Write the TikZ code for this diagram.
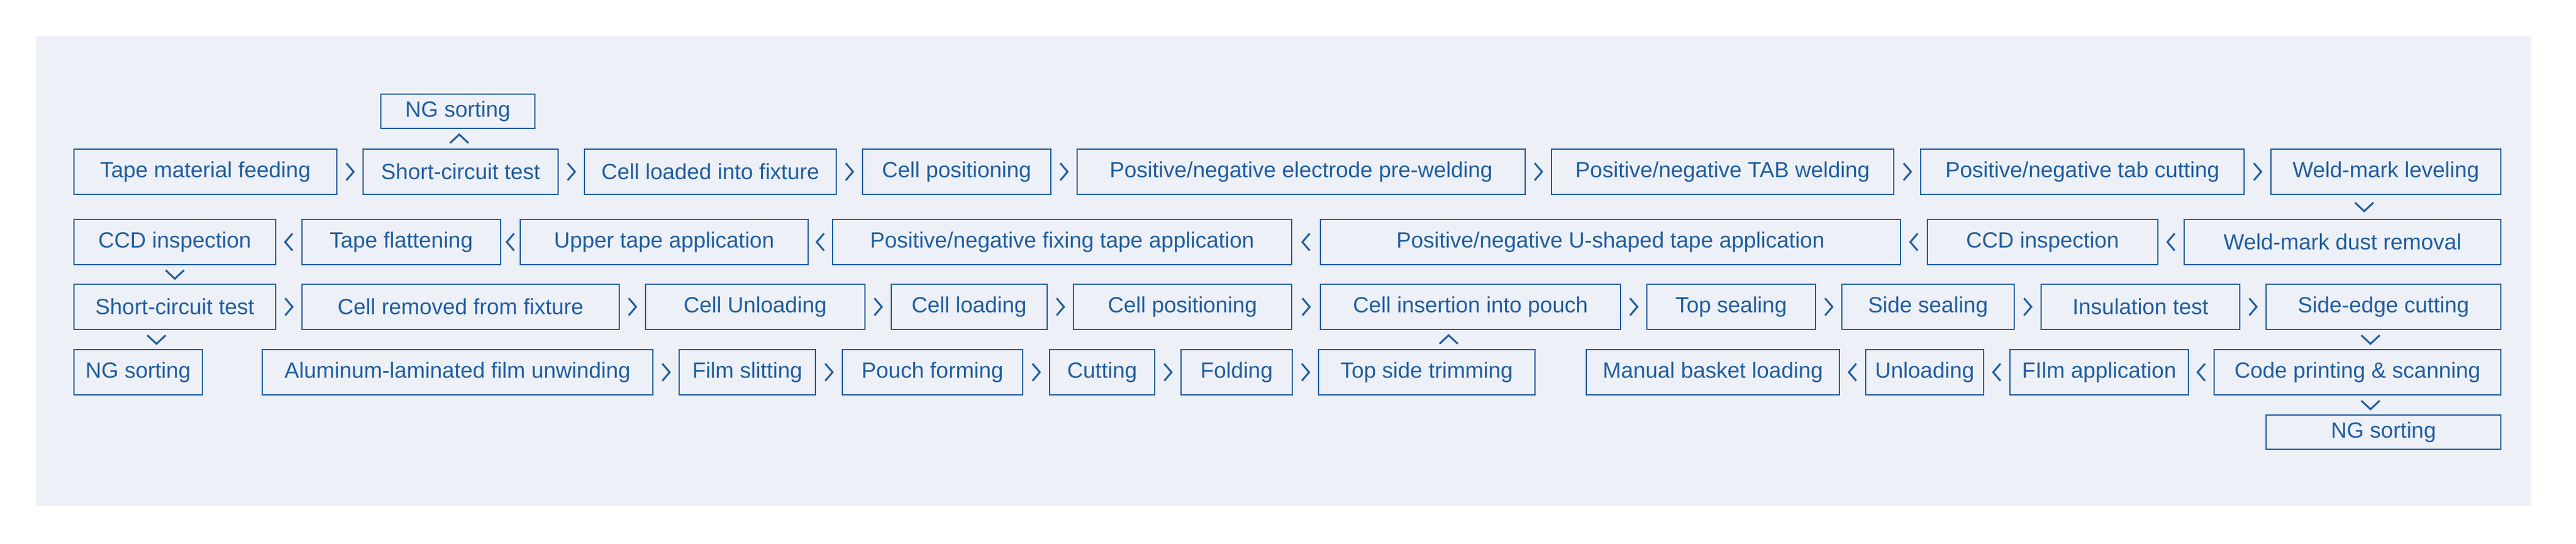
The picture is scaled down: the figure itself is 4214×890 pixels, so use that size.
\documentclass[tikz,border=0pt]{standalone}
\usepackage{fontspec}
\setmainfont{Liberation Sans}
\usetikzlibrary{calc}
\definecolor{bl}{HTML}{1F5E9E}
\definecolor{bg}{HTML}{EEF0F8}
\begin{document}
\begin{tikzpicture}[x=1pt,y=-1pt,
  box/.style={draw=bl,line width=2.6pt,text=bl,inner sep=0pt,font=\fontsize{36}{40}\selectfont},
  chev/.style={draw=bl,line width=3pt}]
\useasboundingbox (0,0) rectangle (4214,890);
\fill[white] (0,0) rectangle (4214,890);
\fill[bg] (59,59) rectangle (4141,828);
\newcommand\bx[6]{\node[box,minimum width={#3-#2},minimum height=#5] (#1) at ({(#2+#3)/2},#4) {#6};}
\newcommand\cR[2]{\path (#1.east) -- (#2.west) coordinate[pos=.5] (cc); \draw[chev] ($(cc)+(-6,-14)$) -- ($(cc)+(6,0)$) -- ($(cc)+(-6,14)$);}
\newcommand\cL[2]{\path (#1.west) -- (#2.east) coordinate[pos=.5] (cc); \draw[chev] ($(cc)+(6,-14)$) -- ($(cc)+(-6,0)$) -- ($(cc)+(6,14)$);}
\newcommand\cD[2]{\path (#1.south) -- (#2.north) coordinate[pos=.5] (cc); \draw[chev] ($(cc)+(-15,-7)$) -- ($(cc)+(0,7)$) -- ($(cc)+(15,-7)$);}
\newcommand\cU[2]{\path (#1.north) -- (#2.south) coordinate[pos=.5] (cc); \draw[chev] ($(cc)+(-15,7)$) -- ($(cc)+(0,-7)$) -- ($(cc)+(15,7)$);}
% row 1
\bx{a1}{121}{551}{281}{74}{Tape material feeding}
\bx{a2}{594}{913}{281}{74}{Short-circuit test}
\bx{a3}{956}{1368}{281}{74}{Cell loaded into fixture}
\bx{a4}{1411}{1719}{281}{74}{Cell positioning}
\bx{a5}{1762}{2495}{281}{74}{Positive/negative electrode pre-welding}
\bx{a6}{2538}{3098}{281}{74}{Positive/negative TAB welding}
\bx{a7}{3142}{3671}{281}{74}{Positive/negative tab cutting}
\bx{a8}{3715}{4091}{281}{74}{Weld-mark leveling}
\bx{ng1}{623}{875}{182}{56}{NG sorting}
% row 2
\bx{b1}{121}{451}{396}{74}{CCD inspection}
\bx{b2}{494}{819}{396}{74}{Tape flattening}
\bx{b3}{851}{1322}{396}{74}{Upper tape application}
\bx{b4}{1362}{2113}{396}{74}{Positive/negative fixing tape application}
\bx{b5}{2160}{3109}{396}{74}{Positive/negative U-shaped tape application}
\bx{b6}{3153}{3530}{396}{74}{CCD inspection}
\bx{b7}{3573}{4091}{396}{74}{Weld-mark dust removal}
% row 3
\bx{c1}{121}{451}{502}{74}{Short-circuit test}
\bx{c2}{494}{1013}{502}{74}{Cell removed from fixture}
\bx{c3}{1056}{1415}{502}{74}{Cell Unloading}
\bx{c4}{1458}{1713}{502}{74}{Cell loading}
\bx{c5}{1756}{2113}{502}{74}{Cell positioning}
\bx{c6}{2160}{2651}{502}{74}{Cell insertion into pouch}
\bx{c7}{2694}{2970}{502}{74}{Top sealing}
\bx{c8}{3013}{3295}{502}{74}{Side sealing}
\bx{c9}{3339}{3664}{502}{74}{Insulation test}
\bx{c10}{3707}{4091}{502}{74}{Side-edge cutting}
% row 4
\bx{d1}{121}{331}{609}{74}{NG sorting}
\bx{d2}{429}{1068}{609}{74}{Aluminum-laminated film unwinding}
\bx{d3}{1111}{1334}{609}{74}{Film slitting}
\bx{d4}{1378}{1673}{609}{74}{Pouch forming}
\bx{d5}{1717}{1889}{609}{74}{Cutting}
\bx{d6}{1932}{2114}{609}{74}{Folding}
\bx{d7}{2157}{2511}{609}{74}{Top side trimming}
\bx{d8}{2595}{3009}{609}{74}{Manual basket loading}
\bx{d9}{3052}{3245}{609}{74}{Unloading}
\bx{d10}{3288}{3580}{609}{74}{FIlm application}
\bx{d11}{3622}{4091}{609}{74}{Code printing \& scanning}
\bx{ng2}{3707}{4091}{707}{56}{NG sorting}
% chevrons
\cR{a1}{a2}\cR{a2}{a3}\cR{a3}{a4}\cR{a4}{a5}\cR{a5}{a6}\cR{a6}{a7}\cR{a7}{a8}
\cU{a2}{ng1}
\cD{a8}{b7}
\cL{b7}{b6}\cL{b6}{b5}\cL{b5}{b4}\cL{b4}{b3}\cL{b3}{b2}\cL{b2}{b1}
\cD{b1}{c1}
\cR{c1}{c2}\cR{c2}{c3}\cR{c3}{c4}\cR{c4}{c5}\cR{c5}{c6}\cR{c6}{c7}\cR{c7}{c8}\cR{c8}{c9}\cR{c9}{c10}
\cD{c1}{d1}
\cR{d2}{d3}\cR{d3}{d4}\cR{d4}{d5}\cR{d5}{d6}\cR{d6}{d7}
\cU{d7}{c6}
\cD{c10}{d11}
\cL{d11}{d10}\cL{d10}{d9}\cL{d9}{d8}
\cD{d11}{ng2}
\end{tikzpicture}
\end{document}
